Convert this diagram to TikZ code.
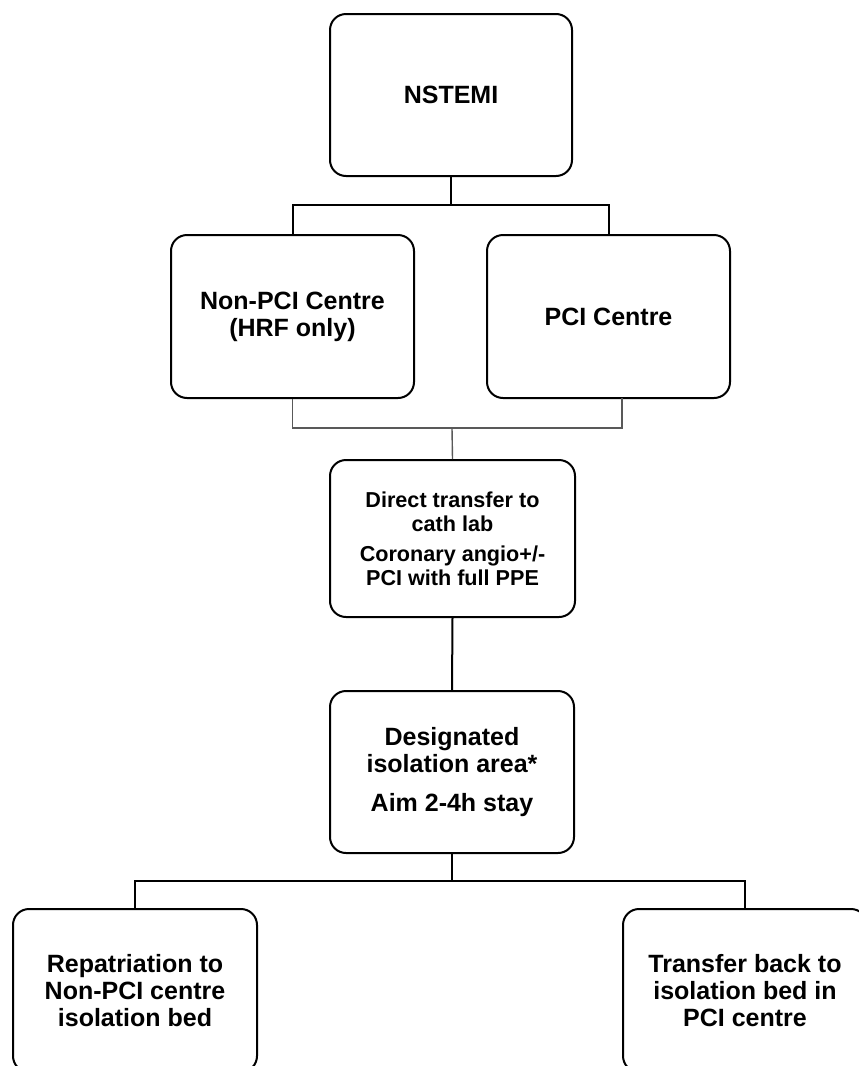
\documentclass[tikz,border=0pt]{standalone}
\usepackage{fontspec}
\setmainfont{Liberation Sans}
\begin{document}
\begin{tikzpicture}[x=1pt,y=-1pt,
  box/.style={draw=black, line width=2pt, rounded corners=16pt, align=center,
    inner sep=0pt, font=\bfseries\fontsize{25}{27}\selectfont},
  smallbox/.style={box, font=\bfseries\fontsize{21.6}{24}\selectfont},
  conn/.style={draw=black, line width=2pt},
  gconn/.style={draw=black!65, line width=1.4pt}]
\useasboundingbox (0,0) rectangle (859,1066);
\fill[white] (0,0) rectangle (859,1066);
\clip (0,0) rectangle (859,1066);

\node[box, minimum width=242pt, minimum height=162pt] (nstemi) at (451,95) {NSTEMI};
\node[box, minimum width=243pt, minimum height=163pt] (nonpci) at (292.5,316.5) {Non-PCI Centre\\(HRF only)};
\node[box, minimum width=243pt, minimum height=163pt] (pci) at (608.5,316.5) {PCI Centre};
\node[smallbox, minimum width=245pt, minimum height=157pt] (direct) at (452.5,538.5)
  {Direct transfer to\\cath lab\\[6pt]Coronary angio+/-\\PCI with full PPE};
\node[box, minimum width=244pt, minimum height=162pt] (desig) at (452,772)
  {Designated\\isolation area*\\[12pt]Aim 2-4h stay};
\node[box, minimum width=244pt, minimum height=163pt] (repat) at (135,990.5)
  {Repatriation to\\Non-PCI centre\\isolation bed};
\node[box, minimum width=244pt, minimum height=163pt] (trans) at (745,990.5)
  {Transfer back to\\isolation bed in\\PCI centre};

\coordinate (j1) at (451,205);
\coordinate (j2) at (452,428);
\coordinate (pcig) at (622,398);
\coordinate (j3) at (452,881);

\draw[conn] (nstemi.south) -- (j1);
\draw[conn] (nonpci.north) |- (j1) -| (pci.north);
\draw[gconn] (nonpci.south) |- (j2) -| (pcig);
\draw[gconn] (j2) -- (direct.north);
\draw[conn] (direct.south) -- (desig.north);
\draw[conn] (desig.south) -- (j3);
\draw[conn] (repat.north) |- (j3) -| (trans.north);
\end{tikzpicture}
\end{document}
